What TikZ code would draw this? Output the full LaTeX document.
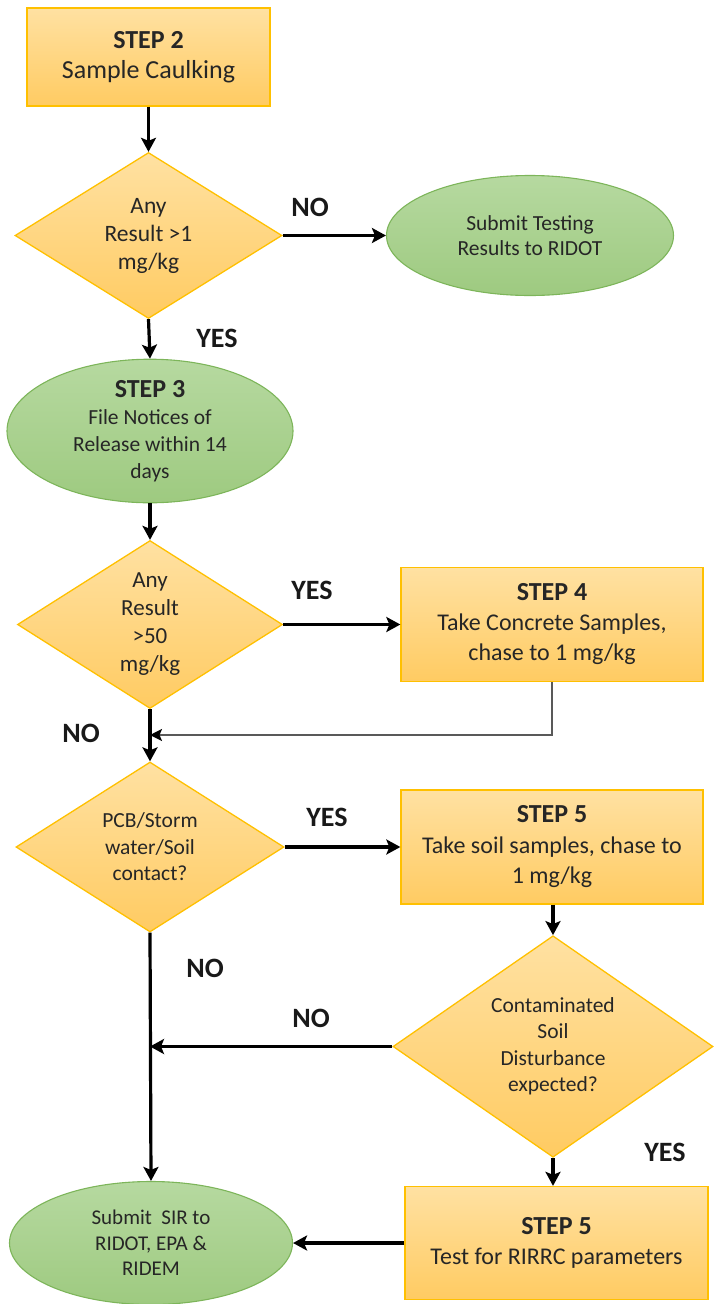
\documentclass[tikz,border=0pt]{standalone}
\usepackage{fontspec}
\setmainfont{Carlito}
\usetikzlibrary{shapes.geometric,arrows.meta}
\definecolor{boxtop}{HTML}{FFE1A2}
\definecolor{boxbot}{HTML}{FFCB62}
\definecolor{boxline}{HTML}{FFC000}
\definecolor{elltop}{HTML}{B6D9A0}
\definecolor{ellbot}{HTML}{9ECA80}
\definecolor{ellline}{HTML}{7DB55A}
\definecolor{txt}{HTML}{262626}
\tikzset{
  stepbox/.style={rectangle, draw=boxline, line width=1.3pt, top color=boxtop, bottom color=boxbot,
    align=center, inner sep=0pt, text=txt},
  decision/.style={diamond, draw=boxline, line width=1.3pt, top color=boxtop, bottom color=boxbot,
    align=center, inner sep=0pt, text=txt, font=\fontsize{23.5}{28}\selectfont},
  terminal/.style={ellipse, draw=ellline, line width=1.1pt, top color=elltop, bottom color=ellbot,
    align=center, inner sep=0pt, text=txt, font=\fontsize{21.5}{25.5}\selectfont},
  flow/.style={line width=3.2pt, black, -{Stealth[length=14pt,width=15pt,inset=3pt]}},
  thinflow/.style={line width=1.8pt, black!65, -{Stealth[length=12pt,width=12pt,inset=2.5pt,color=black]}},
  lbl/.style={font=\fontsize{28}{30}\selectfont\bfseries, text=black!90, inner sep=0pt}
}
\newcommand{\stephead}[1]{{\fontsize{26}{30}\selectfont\bfseries #1}}
\begin{document}
\begin{tikzpicture}[x=1pt,y=-1pt]
\useasboundingbox (0,0) rectangle (714,1304);

% nodes
\node[stepbox, minimum width=243pt, minimum height=98pt, font=\fontsize{26}{30}\selectfont] (s2) at (148.5,57)
  {\stephead{STEP 2}\\Sample Caulking};
\node[decision, minimum width=267pt, minimum height=166pt] (d1) at (148.5,235.5)
  {Any\\Result >1\\mg/kg};
\node[terminal, minimum width=287pt, minimum height=120pt] (e1) at (530,235.5)
  {Submit Testing\\Results to RIDOT};
\node[terminal, minimum width=286pt, minimum height=122pt, font=\fontsize{21.5}{27}\selectfont] (s3) at (150,431)
  {\stephead{STEP 3}\\File Notices of\\Release within 14\\days};
\node[decision, minimum width=265pt, minimum height=168pt, font=\fontsize{23}{28}\selectfont] (d2) at (150,624.5)
  {Any\\Result\\>50\\mg/kg};
\node[stepbox, minimum width=302pt, minimum height=114pt, font=\fontsize{24}{30}\selectfont] (s4) at (552,624.5)
  {\stephead{STEP 4}\\Take Concrete Samples,\\chase to 1 mg/kg};
\node[decision, minimum width=268pt, minimum height=170pt, font=\fontsize{21.5}{26.5}\selectfont] (d3) at (150,847)
  {PCB/Storm\\water/Soil\\contact?};
\node[stepbox, minimum width=302pt, minimum height=114pt, font=\fontsize{24}{30.5}\selectfont] (s5a) at (552,847)
  {\stephead{STEP 5}\\Take soil samples, chase to\\1 mg/kg};
\node[decision, minimum width=320pt, minimum height=197pt, font=\fontsize{21.5}{26.5}\selectfont] (d4) at (553,1046.5)
  {Contaminated\\Soil\\Disturbance\\expected?};
\node[stepbox, minimum width=303pt, minimum height=113pt, font=\fontsize{24}{30}\selectfont] (s5b) at (556.5,1243)
  {\stephead{STEP 5}\\Test for RIRRC parameters};
\node[terminal, minimum width=283pt, minimum height=123pt, font=\fontsize{21}{25.5}\selectfont] (e2) at (151,1243)
  {Submit\ \ SIR to\\RIDOT, EPA \&\\RIDEM};

\coordinate (j1) at (150,735);
\coordinate (j2) at (150,1046.5);

% connectors
\draw[flow] (s2) -- (d1);
\draw[flow] (d1.east) -- (e1.west);
\draw[flow] (d1.south) -- (s3.north);
\draw[flow] (s3.south) -- (d2.north);
\draw[flow] (d2.east) -- (s4.west);
\draw[flow] (d2.south) -- (d3.north);
\draw[thinflow] (s4.south) |- (j1);
\draw[flow] (d3.east) -- (s5a.west);
\draw[flow] (s5a.south -| d4.north) -- (d4.north);
\draw[flow] (d3.south) -- (e2.north);
\draw[flow] (d4.west) -- (j2);
\draw[flow] (d4.south) -- (d4.south |- s5b.north);
\draw[flow] (s5b.west) -- (e2.east);

% labels
\node[lbl] (n1) at (310,207) {NO};
\node[lbl] (y1) at (217,338) {YES};
\node[lbl] (y2) at (312,590) {YES};
\node[lbl] (n2) at (81,733) {NO};
\node[lbl] (y3) at (327,817) {YES};
\node[lbl] (n3) at (205,968) {NO};
\node[lbl] (n4) at (311,1018) {NO};
\node[lbl] (y4) at (665,1152) {YES};
\end{tikzpicture}
\end{document}
